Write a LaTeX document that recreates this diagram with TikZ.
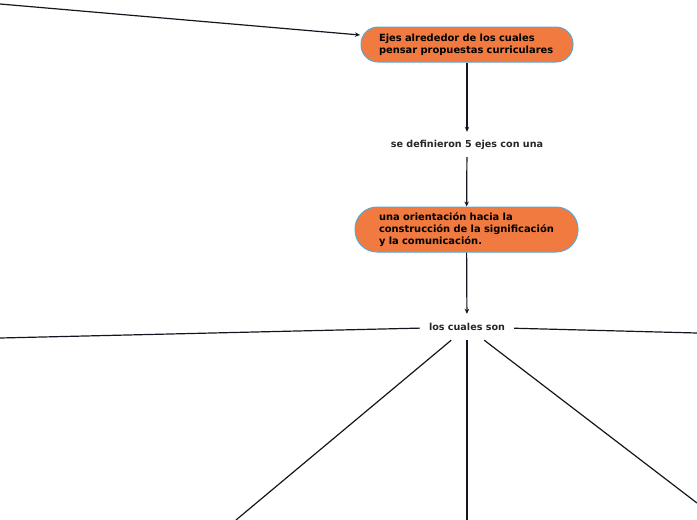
\documentclass[tikz,border=0pt]{standalone}
\usepackage{fontspec}
\setmainfont{DejaVu Sans}
\usetikzlibrary{arrows.meta}
\definecolor{boxfill}{HTML}{F07A3F}
\definecolor{boxline}{HTML}{5AA7D6}
\definecolor{linecol}{HTML}{15151F}
\definecolor{txtcol}{HTML}{262626}
\begin{document}
\begin{tikzpicture}[x=1pt,y=-1pt,
  mainbox/.style={draw=boxline, line width=1pt, fill=boxfill, rounded corners=17pt,
    text=black, font=\fontsize{9.9}{12}\selectfont\bfseries, align=left, anchor=center, inner sep=0pt},
  lbl/.style={font=\fontsize{9.6}{11}\selectfont\bfseries, text=txtcol, inner xsep=9pt, minimum height=25pt},
  conn/.style={draw=linecol, line width=1.2pt},
  arr/.style={conn, -{Stealth[length=5pt,width=4.5pt]}}]
\useasboundingbox (0,0) rectangle (697,520);
\node[mainbox, minimum width=212pt, minimum height=35pt, text width=176pt] (n1) at (467,44.5)
  {Ejes alrededor de los cuales\\pensar propuestas curriculares};
\node[lbl] (l1) at (467,144.5) {se definieron 5 ejes con una};
\node[mainbox, minimum width=223pt, minimum height=45pt, text width=175pt, rounded corners=22pt] (n2) at (466.5,229.5)
  {una orientación hacia la\\construcción de la significación\\y la comunicación.};
\node[lbl, minimum height=26pt] (l2) at (467,327) {los cuales son};
\coordinate (c0) at (0,4);
\coordinate (c0e) at (360,35);
\coordinate (cl) at (0,338);
\coordinate (cr) at (697,333);
\coordinate (cbl) at (236,520);
\coordinate (cbm) at (467,520);
\coordinate (cbr) at (697,503);
\draw[arr] (c0) -- (c0e);
\draw[arr] (n1) -- (l1);
\draw[arr] (l1) -- (n2);
\draw[arr] (n2) -- (l2);
\draw[conn] (l2) -- (cl);
\draw[conn] (l2) -- (cr);
\draw[conn] (l2) -- (cbl);
\draw[conn] (l2.south) -- (cbm);
\draw[conn] (l2) -- (cbr);
\end{tikzpicture}
\end{document}
